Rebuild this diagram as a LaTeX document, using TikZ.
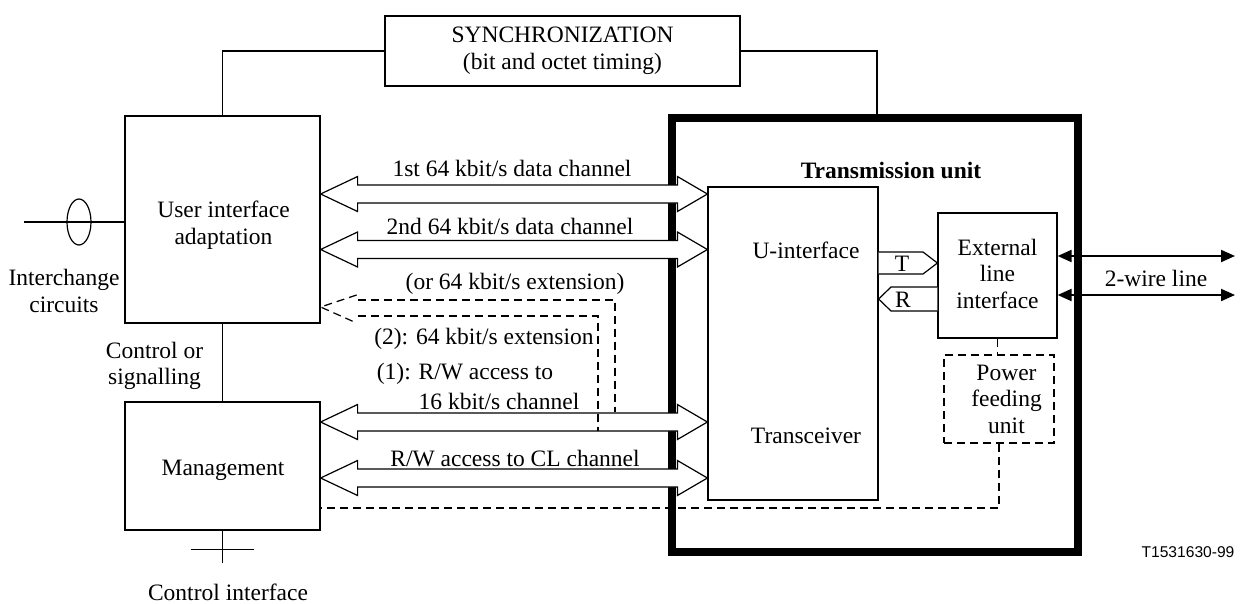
\documentclass[tikz,border=0pt]{standalone}
\usepackage{fontspec}
\setmainfont{Liberation Serif}
\newfontfamily\arialf{Liberation Sans}
\usetikzlibrary{arrows.meta,calc,shapes.geometric}
\newcommand\hollowdbl[2]{%
 \draw[hollow] (#1.east |- 0,#2) -- ++(37,-17.5) -- ++(0,8.5) -- ($(ubox.west |- 0,#2)+(-30,-9)$) -- ++(0,-8.5) -- (ubox.west |- 0,#2) -- ++(-30,17.5) -- ++(0,-8.5) -- ($(#1.east |- 0,#2)+(37,9)$) -- ++(0,8.5) -- cycle;}
\begin{document}
\begin{tikzpicture}[x=1pt,y=-1pt,
  font=\fontsize{23.5}{26.5}\selectfont,
  box/.style={draw, line width=1.2pt, inner sep=0pt, align=center},
  txt/.style={inner sep=0pt, align=center},
  hollow/.style={draw, fill=white, line width=1.2pt, line join=miter},
  dsh/.style={line width=1.8pt, dash pattern=on 8pt off 5pt},
  thinl/.style={line width=1.2pt},
  wire/.style={line width=1.7pt},
  tw/.style={line width=2pt, {Triangle[length=14pt,width=12pt]}-{Triangle[length=14pt,width=12pt]}}]
\useasboundingbox (0,0) rectangle (1240,603);

% transmission unit (thick frame)
\node[draw, line width=8pt, outer sep=0pt, inner sep=0pt, minimum width=406.5pt, minimum height=434pt] (tu) at (874.75,335) {};
\node[txt, anchor=base, font=\fontsize{23.5}{26.5}\selectfont\bfseries] (tut) at (891,178) {Transmission unit};

% synchronization
\node[box, minimum width=355pt, minimum height=70pt] (sync) at (562.5,51) {SYNCHRONIZATION\\(bit and octet timing)};

% user interface adaptation
\node[box, minimum width=195pt, minimum height=207pt] (uia) at (222.5,219.5) {};
\node[txt] (uiat) at (223.5,225) {User interface\\adaptation};

% management
\node[box, minimum width=195pt, minimum height=128pt] (mgmt) at (222.5,466) {};
\node[txt, anchor=base] (mgmtt) at (223,475) {Management};

% transceiver
\node[box, minimum width=170pt, minimum height=313pt] (ubox) at (793,343.5) {};
\node[txt, anchor=base] (ut) at (806,258) {U-interface};
\node[txt, anchor=base] (trt) at (806,443) {Transceiver};

% external line interface
\node[box, minimum width=119pt, minimum height=125pt] (eli) at (997.5,275.5) {};
\node[txt] (elit) at (997.5,273.5) {External\\line\\interface};

% power feeding unit
\node[draw, dsh, inner sep=0pt, minimum width=110pt, minimum height=88pt] (pfu) at (999,399) {};
\node[txt] (pfut) at (1006.5,399) {Power\\feeding\\unit};

% synchronization connectors
\draw[thinl] (sync.west) -| (uia.north);
\draw[thinl] (sync.east) -| (tu.north -| 877,0);

% interchange circuits
\coordinate (ic) at (24,222);
\draw[wire] (ic) -- (uia.west |- ic);
\node[draw, ellipse, line width=1.2pt, inner sep=0pt, minimum width=24pt, minimum height=46pt] (ell) at (79,222) {};
\node[txt] (ict) at (64,291) {Interchange\\circuits};

% control or signalling
\draw[wire] (uia.south) -- (mgmt.north);
\node[txt] (cst) at (154.5,366) {Control or\\signalling};

% control interface
\coordinate (ci) at ($(mgmt.south)+(0,32)$);
\draw[wire] (mgmt.south) -- (ci);
\coordinate (cil) at ($(mgmt.south)+(-32,19)$);
\coordinate (cir) at ($(mgmt.south)+(31,19)$);
\draw[wire] (cil) -- (cir);
\node[txt, anchor=base] (cit) at (228,600) {Control interface};

% hollow double arrows
\hollowdbl{uia}{194}
\hollowdbl{uia}{249.5}
\hollowdbl{mgmt}{422}
\hollowdbl{mgmt}{478}
\node[txt, anchor=base] (l1) at (512,176) {1st 64 kbit/s data channel};
\node[txt, anchor=base] (l2) at (510,234) {2nd 64 kbit/s data channel};
\node[txt, anchor=base] (l3) at (515,289) {(or 64 kbit/s extension)};
\node[txt, anchor=base] (l4) at (484,344) {(2): 64 kbit/s extension};
\node[txt, anchor=base] (l5) at (465,379) {(1): R/W access to};
\node[txt, anchor=base] (l6) at (499,409) {16 kbit/s channel};
\node[txt, anchor=base] (l7) at (515,466) {R/W access to CL channel};

% dashed extension half-arrow
\coordinate (dtip) at (uia.east |- 0,307);
\draw[thinl, dash pattern=on 8pt off 5pt] ($(dtip)+(36,-12)$) -- (dtip) -- ($(dtip)+(36,16)$);
\draw[dsh] ($(dtip)+(37,-7)$) -- (615,300) -- (615,412);
\draw[dsh] ($(dtip)+(37,9)$) -- (598,316) -- (598,431);

% T and R
\draw[hollow] (ubox.east |- 0,252) -- (923,252) -- (eli.west |- 0,263) -- (923,274) -- (ubox.east |- 0,274);
\node[txt, anchor=base] (tt) at (902,271) {T};
\draw[hollow] (eli.west |- 0,287) -- (891,287) -- (ubox.east |- 0,299) -- (891,311) -- (eli.west |- 0,311);
\node[txt, anchor=base] (rt) at (903,307) {R};

% 2-wire line
\coordinate (w1) at (1235,256);
\coordinate (w2) at (1235,295);
\draw[tw] (eli.east |- w1) -- (w1);
\draw[tw] (eli.east |- w2) -- (w2);
\node[txt, anchor=base] (wt) at (1156,286) {2-wire line};

% power feeding dashed links
\draw[dsh] (eli.south) -- (eli.south |- pfu.north);
\draw[dsh] (pfu.south) -- (pfu.south |- 0,508) -- (mgmt.east |- 0,508);

\node[txt, anchor=base, font=\arialf\fontsize{15.6}{18}\selectfont] (ref) at (1188,557) {T1531630-99};
\end{tikzpicture}
\end{document}
